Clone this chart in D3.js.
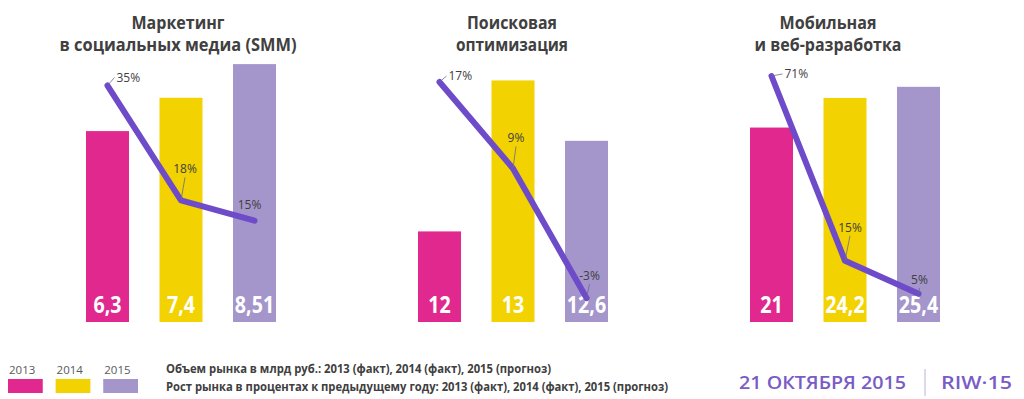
<!DOCTYPE html>
<html><head><meta charset="utf-8">
<script src="https://cdn.jsdelivr.net/npm/d3@7"></script>
<style>html,body{margin:0;padding:0;background:#fff;}svg{display:block;}</style>
</head><body>
<svg id="c" width="1024" height="399"></svg>
<script>
// ---- data ----
const years = ["2013", "2014", "2015"];
const panelTitles = [
  ["Маркетинг", "в социальных медиа (SMM)"],
  ["Поисковая", "оптимизация"],
  ["Мобильная", "и веб-разработка"]
];
const volumeSMM = [6.3, 7.4, 8.51];
const volumeSEO = [12, 13, 12.6];
const volumeMob = [21, 24.2, 25.4];
const growthSMM = [35, 18, 15];
const growthSEO = [17, 9, -3];
const growthMob = [71, 15, 5];
const volumeLabels = [["6,3", "7,4", "8,51"], ["12", "13", "12,6"], ["21", "24,2", "25,4"]];
const legendLine1 = "Объем рынка в млрд руб.: 2013 (факт), 2014 (факт), 2015 (прогноз)";
const legendLine2 = "Рост рынка в процентах к предыдущему году: 2013 (факт), 2014 (факт), 2015 (прогноз)";
const footerDate = "21 ОКТЯБРЯ 2015";
const footerBrand = "RIW·15";

// ---- layout / style ----
const colors = ["#e0288e", "#f2d200", "#a495cb"];
const lineColor = "#6e4bc8";
const textDark = "#404040";
const BASE_Y = 322, TOP_Y = 22;
const panels = [
  {x0: 86, vol: volumeSMM, gr: growthSMM, barDom: [0, 9.9], lineDom: [0, 44.4], titleX: 178, titleW: [93, 237],
   lab: [[9, -4, "start"], [4, -27, "middle"], [-5, -12, "middle"]],
   lead: [1, 1, 0]},
  {x0: 418, vol: volumeSEO, gr: growthSEO, barDom: [11.4, 13.387], lineDom: [-5.22, 22.56], titleX: 512, titleW: [90, 112],
   lab: [[9, -2, "start"], [3, -26, "middle"], [3, -18, "middle"]],
   lead: [1, 1, 1]},
  {x0: 750, vol: volumeMob, gr: growthMob, barDom: [0, 32.4], lineDom: [-3.55, 87.36], titleX: 828, titleW: [97, 147],
   lab: [[13, 2, "start"], [5, -29, "middle"], [1, -10, "middle"]],
   lead: [1, 1, 1]}
];

const svg = d3.select("#c");

panels.forEach((p, pi) => {
  const g = svg.append("g");
  const x = d3.scaleBand().domain(years).range([p.x0, p.x0 + 190]).paddingInner(0.415).paddingOuter(0);
  const yb = d3.scaleLinear().domain(p.barDom).range([BASE_Y, TOP_Y]);
  const yl = d3.scaleLinear().domain(p.lineDom).range([BASE_Y, TOP_Y]);

  // title
  panelTitles[pi].forEach((t, li) => {
    g.append("text").attr("x", p.titleX).attr("y", li === 0 ? 29 : 51)
      .attr("text-anchor", "middle")
      .attr("font-family", "'Open Sans', sans-serif").attr("font-weight", 700).attr("font-size", 17.5)
      .attr("fill", textDark)
      .attr("textLength", p.titleW[li]).attr("lengthAdjust", "spacingAndGlyphs")
      .text(t);
  });

  // bars
  g.selectAll("rect.bar").data(years).join("rect")
    .attr("x", d => x(d)).attr("width", x.bandwidth())
    .attr("y", (d, i) => yb(p.vol[i])).attr("height", (d, i) => BASE_Y - yb(p.vol[i]))
    .attr("fill", (d, i) => colors[i]);

  // bar value labels
  years.forEach((d, i) => {
    g.append("g").attr("transform", `translate(${x(d) + x.bandwidth() / 2},${BASE_Y - 9}) scale(0.82,1)`)
      .append("text").attr("text-anchor", "middle")
      .attr("font-family", "'Open Sans', sans-serif").attr("font-weight", 700).attr("font-size", 24)
      .attr("fill", "#fff").text(volumeLabels[pi][i]);
  });

  // line
  const pts = years.map((d, i) => [x(d) + x.bandwidth() / 2, yl(p.gr[i])]);
  g.append("path").attr("d", d3.line()(pts))
    .attr("fill", "none").attr("stroke", lineColor).attr("stroke-width", 6)
    .attr("stroke-linejoin", "round").attr("stroke-linecap", "round");

  // line labels with leader lines
  pts.forEach((pt, i) => {
    const [dx, dy, anchor] = p.lab[i];
    const lx = pt[0] + dx, ly = pt[1] + dy;
    if (p.lead[i]) {
      const ex = anchor === "start" ? lx - 2 : lx;
      const ey = anchor === "start" ? ly - 4 : ly + 4;
      g.append("path").attr("d", `M${pt[0]},${pt[1]} L${ex},${ey}`)
        .attr("stroke", "#6b6b8a").attr("stroke-width", 0.8).attr("fill", "none");
    }
    g.append("text").attr("x", lx).attr("y", ly).attr("text-anchor", anchor)
      .attr("font-family", "'Open Sans', sans-serif").attr("font-size", 12)
      .attr("fill", textDark).text(p.gr[i] + "%");
  });
});

// legend
const lgx = d3.scaleBand().domain(years).range([8, 138]).paddingInner(0.27).paddingOuter(0);
const lg = svg.append("g");
lg.selectAll("rect").data(years).join("rect")
  .attr("x", d => lgx(d)).attr("y", 379).attr("width", lgx.bandwidth()).attr("height", 14)
  .attr("fill", (d, i) => colors[i]);
lg.selectAll("text").data(years).join("text")
  .attr("x", d => lgx(d) + 1).attr("y", 374)
  .attr("font-family", "'Open Sans', sans-serif").attr("font-size", 11.5)
  .attr("fill", "#595959").text(d => d);

[[legendLine1, 373, 385], [legendLine2, 391, 502]].forEach(([t, y, w]) => {
  svg.append("text").attr("x", 166).attr("y", y)
    .attr("font-family", "'Open Sans', sans-serif").attr("font-weight", 700).attr("font-size", 12)
    .attr("fill", textDark).attr("textLength", w).attr("lengthAdjust", "spacingAndGlyphs").text(t);
});

// footer
svg.append("text").attr("x", 739).attr("y", 389)
  .attr("font-family", "'Open Sans', sans-serif").attr("font-weight", 600).attr("font-size", 18)
  .attr("fill", "#7a5cc6").attr("textLength", 167).attr("lengthAdjust", "spacingAndGlyphs").text(footerDate);
svg.append("line").attr("x1", 925).attr("x2", 925).attr("y1", 369).attr("y2", 396)
  .attr("stroke", "#c8bde6").attr("stroke-width", 1.2);
svg.append("text").attr("x", 941).attr("y", 389)
  .attr("font-family", "'Open Sans', sans-serif").attr("font-weight", 600).attr("font-size", 18)
  .attr("fill", "#7a5cc6").attr("textLength", 71).attr("lengthAdjust", "spacingAndGlyphs").text(footerBrand);
</script>
</body></html>
